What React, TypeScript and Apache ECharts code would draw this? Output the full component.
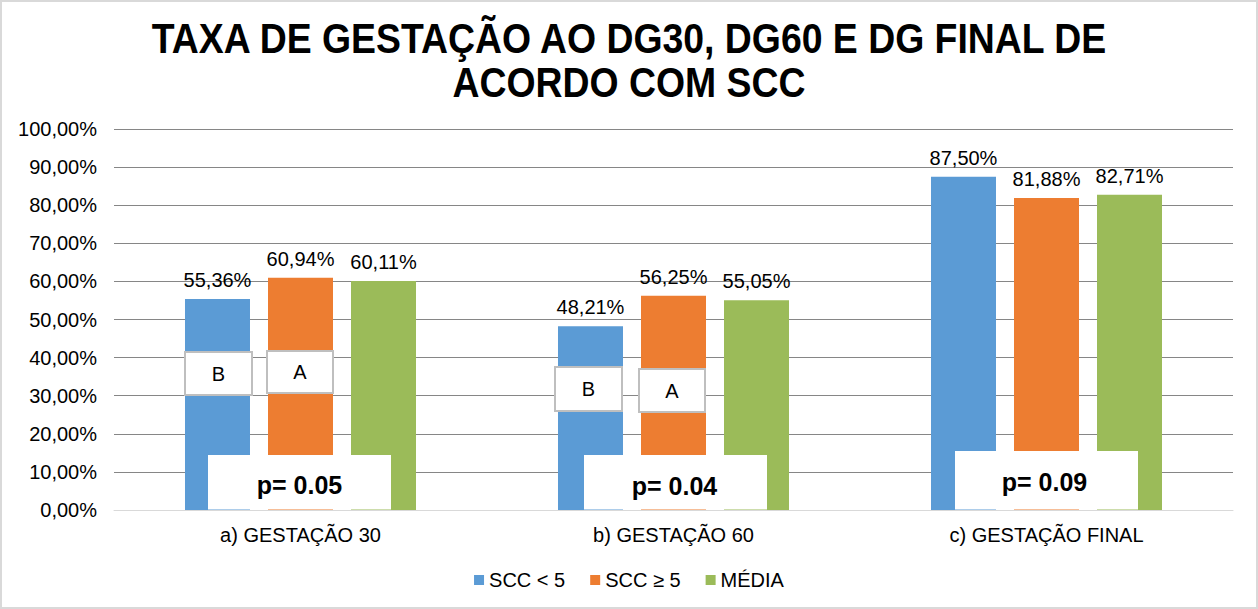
import React, { useEffect, useRef } from "react";
import * as echarts from "echarts";

const categories = ["a) GESTAÇÃO 30", "b) GESTAÇÃO 60", "c) GESTAÇÃO FINAL"];
const seriesNames = ["SCC < 5", "SCC ≥ 5", "MÉDIA"];
const sccLow = [55.36, 48.21, 87.5];
const sccHigh = [60.94, 56.25, 81.88];
const media = [60.11, 55.05, 82.71];
const pValues = ["p= 0.05", "p= 0.04", "p= 0.09"];
const lowLetters = ["B", "B"];
const highLetters = ["A", "A"];
const titleLines = ["TAXA DE GESTAÇÃO AO DG30, DG60 E DG FINAL DE", "ACORDO COM SCC"];

const colors = ["#5B9BD5", "#ED7D31", "#9BBB59"];
const FONT = "'Liberation Sans', Arial, sans-serif";

const fmt = (v: number) => v.toFixed(2).replace(".", ",") + "%";

export default function App() {
  const ref = useRef<HTMLDivElement>(null);
  useEffect(() => {
    if (!ref.current) return;
    const chart = echarts.init(ref.current, undefined, { renderer: "svg" });

    // title horizontal compression (narrow bold look)
    let titleScale = 0.78;
    try {
      const ctx = document.createElement("canvas").getContext("2d");
      if (ctx) {
        ctx.font = "bold 42px 'Liberation Sans', Arial, sans-serif";
        const w = ctx.measureText(titleLines[0]).width;
        if (w > 0) titleScale = 958 / w;
      }
    } catch (e) {}

    const letterBoxes = [
      { x: 185, y: 352, w: 67, h: 43, t: lowLetters[0] },
      { x: 267, y: 351, w: 66, h: 42, t: highLetters[0] },
      { x: 555, y: 367, w: 67, h: 44, t: lowLetters[1] },
      { x: 639, y: 369, w: 66, h: 43, t: highLetters[1] },
    ];
    const pBoxes = [
      { x: 208, y: 455, w: 183, ty: 485, tx: 299.5, t: pValues[0] },
      { x: 584, y: 455, w: 183, ty: 486, tx: 674.5, t: pValues[1] },
      { x: 955, y: 451, w: 183, ty: 481.5, tx: 1044.5, t: pValues[2] },
    ];

    const graphics: any[] = [
      {
        type: "rect",
        z: 100,
        shape: { x: 1, y: 1, width: 1256, height: 607 },
        style: { fill: "none", stroke: "#d9d9d9", lineWidth: 2 },
        silent: true,
      },
      {
        type: "group",
        x: 629,
        y: 0,
        scaleX: titleScale,
        z: 100,
        children: titleLines.map((t, i) => ({
          type: "text",
          x: 0,
          y: 38 + i * 44,
          style: {
            text: t,
            fill: "#000",
            fontSize: 42,
            fontWeight: "bold",
            fontFamily: FONT,
            align: "center",
            verticalAlign: "middle",
          },
        })),
      },
    ];
    pBoxes.forEach((b) => {
      graphics.push({
        type: "rect",
        z: 100,
        shape: { x: b.x, y: b.y, width: b.w, height: 509.5 - b.y },
        style: { fill: "#ffffff" },
      });
      graphics.push({
        type: "text",
        z: 101,
        x: b.tx,
        y: b.ty,
        style: {
          text: b.t,
          fill: "#000",
          fontSize: 25,
          fontWeight: "bold",
          fontFamily: FONT,
          align: "center",
          verticalAlign: "middle",
        },
      });
    });
    letterBoxes.forEach((b) => {
      graphics.push({
        type: "rect",
        z: 100,
        shape: { x: b.x, y: b.y, width: b.w, height: b.h },
        style: { fill: "#ffffff", stroke: "#bfbfbf", lineWidth: 2 },
      });
      graphics.push({
        type: "text",
        z: 101,
        x: b.x + b.w / 2,
        y: b.y + b.h / 2,
        style: {
          text: b.t,
          fill: "#000",
          fontSize: 20,
          fontFamily: FONT,
          align: "center",
          verticalAlign: "middle",
        },
      });
    });

    const dataSets = [sccLow, sccHigh, media];

    chart.setOption({
      animation: false,
      backgroundColor: "#ffffff",
      legend: {
        data: seriesNames,
        bottom: 14,
        left: "center",
        icon: "rect",
        itemWidth: 10,
        itemHeight: 10,
        itemGap: 25,
        textStyle: { fontSize: 20, color: "#000", fontFamily: FONT },
      },
      grid: { left: 114, right: 25, top: 129, bottom: 99, containLabel: false },
      xAxis: {
        type: "category",
        data: categories,
        axisLine: { lineStyle: { color: "#d9d9d9", width: 1 } },
        axisTick: { show: false },
        axisLabel: { fontSize: 20, color: "#000", fontFamily: FONT, margin: 15 },
      },
      yAxis: {
        type: "value",
        min: 0,
        max: 100,
        interval: 10,
        axisLine: { show: false },
        axisTick: { show: false },
        splitLine: { lineStyle: { color: "#868686", width: 1 } },
        axisLabel: {
          fontSize: 20,
          color: "#000",
          fontFamily: FONT,
          margin: 17,
          formatter: (v: number) => fmt(v),
        },
      },
      series: seriesNames.map((name, i) => ({
        name,
        type: "bar",
        data: dataSets[i],
        barWidth: 65,
        barGap: "27.7%",
        itemStyle: { color: colors[i] },
        label: {
          show: true,
          position: "top",
          distance: 9,
          fontSize: 20,
          color: "#000",
          fontFamily: FONT,
          formatter: (p: any) => fmt(p.value),
        },
      })),
      graphic: graphics,
    });

    return () => chart.dispose();
  }, []);

  return (
    <div
      ref={ref}
      style={{ position: "fixed", left: 0, top: 0, width: 1258, height: 609 }}
    />
  );
}
